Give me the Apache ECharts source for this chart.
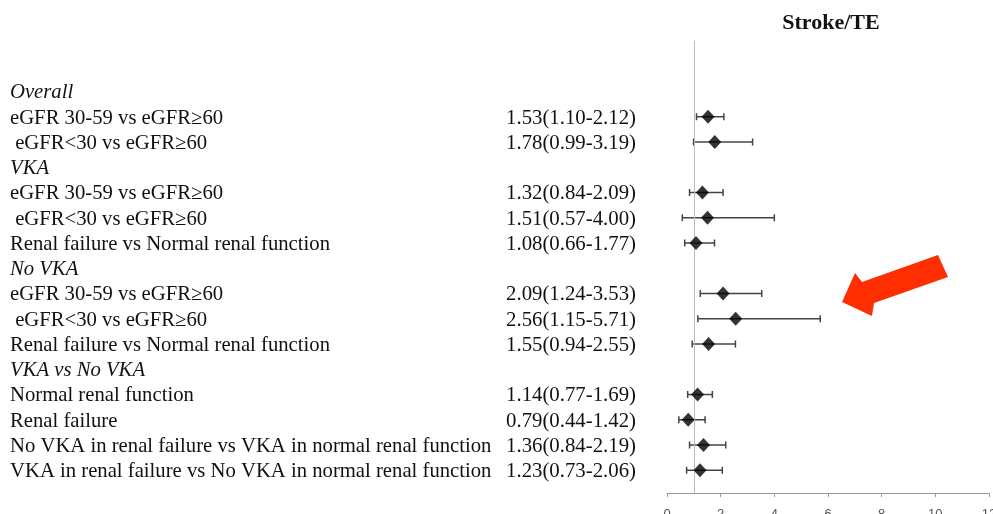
<!DOCTYPE html>
<html>
<head>
<meta charset="utf-8">
<script src="https://cdn.jsdelivr.net/npm/echarts@6/dist/echarts.min.js"></script>
<style>
  html, body { margin: 0; padding: 0; background: #fff; }
  #chart { width: 993px; height: 514px; }
</style>
</head>
<body>
<div id="chart"></div>
<script>
// rows top to bottom; null = group heading
const rowLabels = [
  "Overall",
  "eGFR 30-59 vs eGFR≥60",
  " eGFR<30 vs eGFR≥60",
  "VKA",
  "eGFR 30-59 vs eGFR≥60",
  " eGFR<30 vs eGFR≥60",
  "Renal failure vs Normal renal function",
  "No VKA",
  "eGFR 30-59 vs eGFR≥60",
  " eGFR<30 vs eGFR≥60",
  "Renal failure vs Normal renal function",
  "VKA vs No VKA",
  "Normal renal function",
  "Renal failure",
  "No VKA in renal failure vs VKA in normal renal function",
  "VKA in renal failure vs No VKA in normal renal function",
];
const hr    = [null, 1.53, 1.78, null, 1.32, 1.51, 1.08, null, 2.09, 2.56, 1.55, null, 1.14, 0.79, 1.36, 1.23];
const lower = [null, 1.10, 0.99, null, 0.84, 0.57, 0.66, null, 1.24, 1.15, 0.94, null, 0.77, 0.44, 0.84, 0.73];
const upper = [null, 2.12, 3.19, null, 2.09, 4.00, 1.77, null, 3.53, 5.71, 2.55, null, 1.69, 1.42, 2.19, 2.06];
const xTicks = [0, 2, 4, 6, 8, 10, 12];
const refValue = 1;

const chart = echarts.init(document.getElementById("chart"));

const serif = "'Liberation Serif', 'Times New Roman', serif";

const labelData = rowLabels.map((name, i) => [i, hr[i] == null ? 1 : 0]);
const estData = [];
const barData = [];
const pointData = [];
hr.forEach((v, i) => {
  if (v == null) return;
  estData.push([i, `${v.toFixed(2)}(${lower[i].toFixed(2)}-${upper[i].toFixed(2)})`]);
  barData.push([lower[i], upper[i], i]);
  pointData.push([v, i]);
});

chart.setOption({
  animation: false,
  grid: { left: 667, right: 4, top: 41, bottom: 21, outerBoundsMode: "none", containLabel: false },
  xAxis: {
    type: "value",
    position: "bottom",
    min: xTicks[0],
    max: xTicks[xTicks.length - 1],
    interval: 2,
    splitLine: { show: false },
    axisLine: { show: true, onZero: false, lineStyle: { color: "#9a9a9a", width: 1 } },
    axisTick: { show: true, length: 4, lineStyle: { color: "#9a9a9a" } },
    axisLabel: { color: "#555", fontSize: 13, fontFamily: "Arial", margin: 15 },
  },
  yAxis: {
    type: "value",
    inverse: true,
    min: -2,
    max: 15.9,
    interval: 0.1,
    show: false,
  },
  graphic: [
    {
      type: "text",
      x: 831,
      y: 23,
      style: { text: "Stroke/TE", font: `bold 22px ${serif}`, fill: "#111", align: "center", verticalAlign: "middle" },
    },
    {
      type: "polygon",
      shape: {
        points: [[938, 255], [948, 277], [874, 303], [872, 316], [842, 302], [855, 273], [862, 282]],
      },
      style: { fill: "#ff2e00" },
    },
  ],
  series: [
    {
      type: "custom",
      name: "labels",
      data: labelData,
      renderItem: (params, api) => {
        const y = api.coord([0, api.value(0)])[1];
        const heading = api.value(1) === 1;
        return {
          type: "text",
          x: 10,
          y: y + 1.5,
          style: {
            text: rowLabels[api.value(0)],
            font: `${heading ? "italic " : ""}20.7px ${serif}`,
            fill: "#111",
            verticalAlign: "middle",
            align: "left",
          },
        };
      },
    },
    {
      type: "custom",
      name: "estimates",
      data: estData,
      renderItem: (params, api) => {
        const y = api.coord([0, api.value(0)])[1];
        return {
          type: "text",
          x: 636,
          y: y + 1.5,
          style: {
            text: estData[params.dataIndex][1],
            font: `20.8px ${serif}`,
            fill: "#111",
            verticalAlign: "middle",
            align: "right",
          },
        };
      },
    },
    {
      type: "custom",
      name: "ci",
      data: barData,
      encode: { x: [0, 1], y: 2 },
      renderItem: (params, api) => {
        const a = api.coord([api.value(0), api.value(2)]);
        const b = api.coord([api.value(1), api.value(2)]);
        const cap = 3.5;
        const st = { stroke: "#444", lineWidth: 1.5 };
        return {
          type: "group",
          children: [
            { type: "line", shape: { x1: a[0], y1: a[1], x2: b[0], y2: b[1] }, style: st },
            { type: "line", shape: { x1: a[0], y1: a[1] - cap, x2: a[0], y2: a[1] + cap }, style: st },
            { type: "line", shape: { x1: b[0], y1: b[1] - cap, x2: b[0], y2: b[1] + cap }, style: st },
          ],
        };
      },
      markLine: {
        silent: true,
        symbol: "none",
        label: { show: false },
        lineStyle: { color: "#bdbdbd", width: 1, type: "solid" },
        data: [{ xAxis: refValue }],
      },
    },
    {
      type: "scatter",
      name: "HR",
      data: pointData,
      symbol: "diamond",
      symbolSize: [13, 14],
      itemStyle: { color: "#000" },
      z: 5,
    },
  ],
});
</script>
</body>
</html>
